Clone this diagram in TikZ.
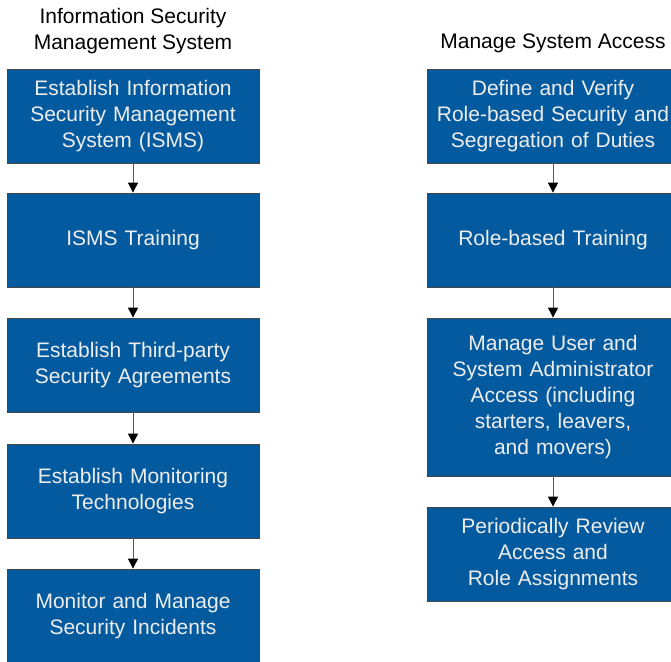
\documentclass[tikz,border=0pt]{standalone}
\usepackage{fontspec}
\setmainfont{Liberation Sans}
\usepackage{tikz}
\usetikzlibrary{arrows.meta, positioning}
\definecolor{boxblue}{RGB}{4,90,158}
\definecolor{boxedge}{RGB}{70,70,70}
\colorlet{boxtext}{white!93!black}

\begin{document}
\begin{tikzpicture}[x=1pt, y=-1pt, >={Triangle[width=10pt, length=10pt, color=black]},
    stepbox/.style={draw=boxedge, line width=0.8pt, fill=boxblue, text=boxtext,
      minimum width=252pt, minimum height=94pt, text width=244pt, align=center,
      inner sep=0pt, font=\fontsize{21}{26}\selectfont},
    title/.style={align=center, font=\fontsize{21}{26}\selectfont},
    link/.style={->, draw=black!65, line width=1pt}]
    \clip (0,0) rectangle (671,661);

    % Left column
    \node[title] (ltitle) at (133, 31) {Information Security\\Management System};
    \node[stepbox] (isms) at (133, 116) {Establish Information\\Security Management\\System (ISMS)};
    \node[stepbox] (train) at (133, 240) {ISMS Training};
    \node[stepbox] (third) at (133, 365) {Establish Third-party\\Security Agreements};
    \node[stepbox] (monit) at (133, 491) {Establish Monitoring\\Technologies};
    \node[stepbox] (incid) at (133, 616) {Monitor and Manage\\Security Incidents};

    % Right column
    \node[title] (rtitle) at (553, 43) {Manage System Access};
    \node[stepbox] (roles) at (553, 116) {Define and Verify\\Role-based Security and\\Segregation of Duties};
    \node[stepbox] (rtrain) at (553, 240) {Role-based Training};
    \node[stepbox, minimum height=158pt] (users) at (553, 397) {Manage User and\\System Administrator\\Access (including\\starters, leavers,\\and movers)};
    \node[stepbox] (review) at (553, 554) {Periodically Review\\Access and\\Role Assignments};

    % Arrows
    \foreach \a/\b in {isms/train, train/third, third/monit, monit/incid,
                       roles/rtrain, rtrain/users, users/review} {
      \draw[link] (\a) -- (\b);
    }
  \end{tikzpicture}
\end{document}
